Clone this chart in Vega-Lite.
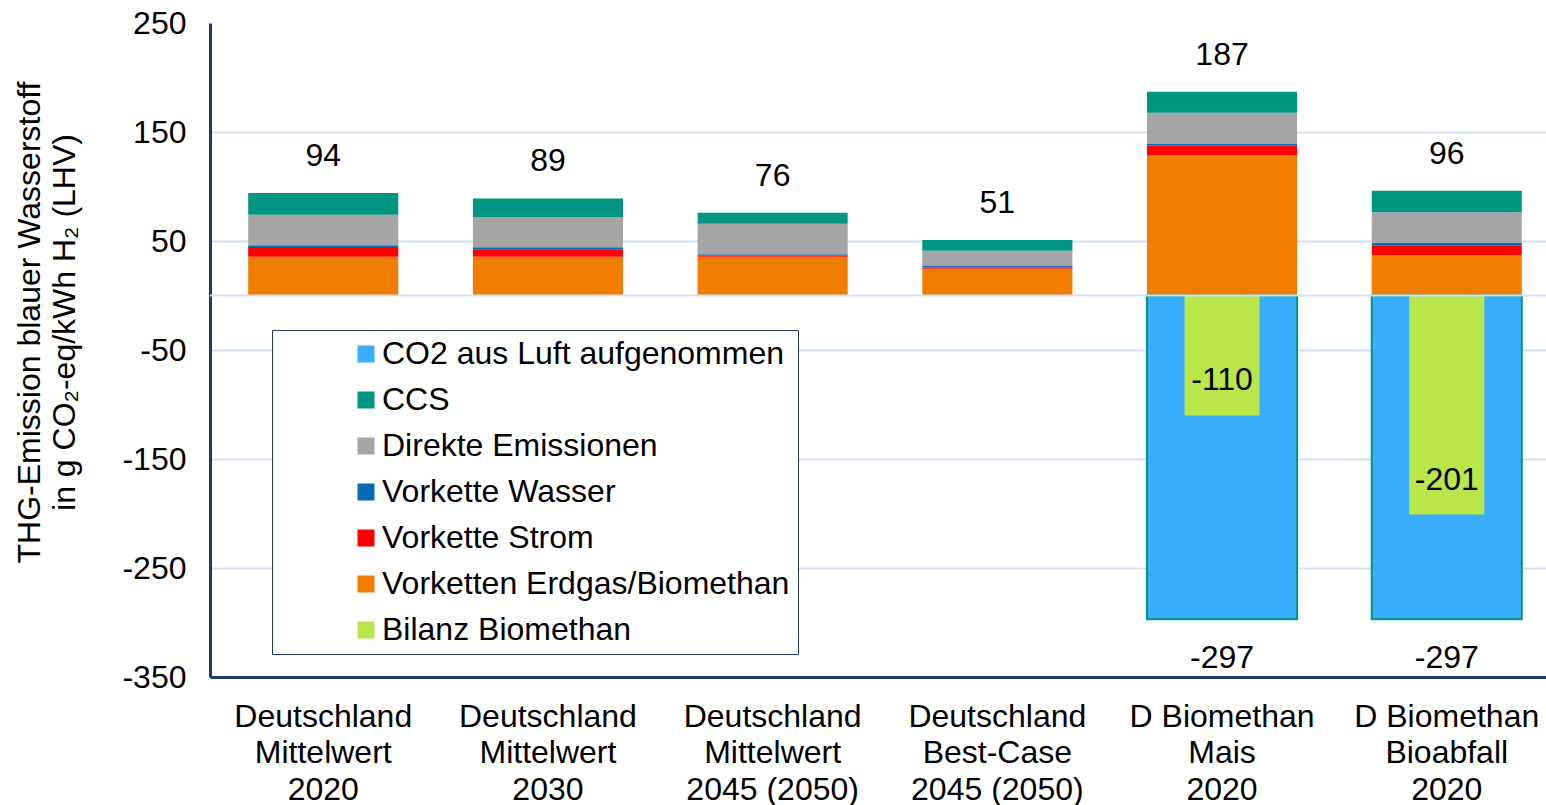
{
  "$schema": "https://vega.github.io/schema/vega-lite/v6.json",
  "width": 1350,
  "height": 654,
  "autosize": "none",
  "padding": {"left": 210, "top": 23, "right": 0, "bottom": 128},
  "background": "white",
  "config": {
    "view": {"stroke": null},
    "font": "Liberation Sans",
    "text": {"font": "Liberation Sans"}
  },
  "datasets": {
    "ranks": [
      {"component": "CO2 aus Luft aufgenommen", "rank": 0},
      {"component": "Vorketten Erdgas/Biomethan", "rank": 1},
      {"component": "Vorkette Strom", "rank": 2},
      {"component": "Vorkette Wasser", "rank": 3},
      {"component": "Direkte Emissionen", "rank": 4},
      {"component": "CCS", "rank": 5}
    ],
    "bars": [
      {"cat": "Deutschland|Mittelwert|2020", "component": "Vorketten Erdgas/Biomethan", "value": 35.5},
      {"cat": "Deutschland|Mittelwert|2020", "component": "Vorkette Strom", "value": 9},
      {"cat": "Deutschland|Mittelwert|2020", "component": "Vorkette Wasser", "value": 1.5},
      {"cat": "Deutschland|Mittelwert|2020", "component": "Direkte Emissionen", "value": 28},
      {"cat": "Deutschland|Mittelwert|2020", "component": "CCS", "value": 20},
      {"cat": "Deutschland|Mittelwert|2030", "component": "Vorketten Erdgas/Biomethan", "value": 35.5},
      {"cat": "Deutschland|Mittelwert|2030", "component": "Vorkette Strom", "value": 7},
      {"cat": "Deutschland|Mittelwert|2030", "component": "Vorkette Wasser", "value": 1.7},
      {"cat": "Deutschland|Mittelwert|2030", "component": "Direkte Emissionen", "value": 27.5},
      {"cat": "Deutschland|Mittelwert|2030", "component": "CCS", "value": 17.3},
      {"cat": "Deutschland|Mittelwert|2045 (2050)", "component": "Vorketten Erdgas/Biomethan", "value": 35.5},
      {"cat": "Deutschland|Mittelwert|2045 (2050)", "component": "Vorkette Strom", "value": 1.2},
      {"cat": "Deutschland|Mittelwert|2045 (2050)", "component": "Vorkette Wasser", "value": 1.2},
      {"cat": "Deutschland|Mittelwert|2045 (2050)", "component": "Direkte Emissionen", "value": 28},
      {"cat": "Deutschland|Mittelwert|2045 (2050)", "component": "CCS", "value": 10.1},
      {"cat": "Deutschland|Best-Case|2045 (2050)", "component": "Vorketten Erdgas/Biomethan", "value": 24.5},
      {"cat": "Deutschland|Best-Case|2045 (2050)", "component": "Vorkette Strom", "value": 1.3},
      {"cat": "Deutschland|Best-Case|2045 (2050)", "component": "Vorkette Wasser", "value": 1.2},
      {"cat": "Deutschland|Best-Case|2045 (2050)", "component": "Direkte Emissionen", "value": 14},
      {"cat": "Deutschland|Best-Case|2045 (2050)", "component": "CCS", "value": 10},
      {"cat": "D Biomethan|Mais|2020", "component": "Vorketten Erdgas/Biomethan", "value": 128.5},
      {"cat": "D Biomethan|Mais|2020", "component": "Vorkette Strom", "value": 9},
      {"cat": "D Biomethan|Mais|2020", "component": "Vorkette Wasser", "value": 1.6},
      {"cat": "D Biomethan|Mais|2020", "component": "Direkte Emissionen", "value": 28.5},
      {"cat": "D Biomethan|Mais|2020", "component": "CCS", "value": 19.4},
      {"cat": "D Biomethan|Mais|2020", "component": "CO2 aus Luft aufgenommen", "value": -297},
      {"cat": "D Biomethan|Bioabfall|2020", "component": "Vorketten Erdgas/Biomethan", "value": 37},
      {"cat": "D Biomethan|Bioabfall|2020", "component": "Vorkette Strom", "value": 9.2},
      {"cat": "D Biomethan|Bioabfall|2020", "component": "Vorkette Wasser", "value": 2.2},
      {"cat": "D Biomethan|Bioabfall|2020", "component": "Direkte Emissionen", "value": 28},
      {"cat": "D Biomethan|Bioabfall|2020", "component": "CCS", "value": 19.6},
      {"cat": "D Biomethan|Bioabfall|2020", "component": "CO2 aus Luft aufgenommen", "value": -297}
    ],
    "bilanz": [
      {"cat": "D Biomethan|Mais|2020", "component": "Bilanz Biomethan", "value": -110},
      {"cat": "D Biomethan|Bioabfall|2020", "component": "Bilanz Biomethan", "value": -201}
    ],
    "totals": [
      {"cat": "Deutschland|Mittelwert|2020", "value": 94},
      {"cat": "Deutschland|Mittelwert|2030", "value": 89},
      {"cat": "Deutschland|Mittelwert|2045 (2050)", "value": 76},
      {"cat": "Deutschland|Best-Case|2045 (2050)", "value": 51},
      {"cat": "D Biomethan|Mais|2020", "value": 187},
      {"cat": "D Biomethan|Bioabfall|2020", "value": 96}
    ],
    "co2": [
      {"cat": "D Biomethan|Mais|2020", "value": -297},
      {"cat": "D Biomethan|Bioabfall|2020", "value": -297}
    ]
  },
  "encoding": {
    "y": {
      "field": "value",
      "type": "quantitative",
      "scale": {"domain": [-350, 250], "nice": false, "zero": false},
      "axis": {
        "title": ["THG-Emission blauer Wasserstoff", "in g CO₂-eq/kWh H₂ (LHV)"],
        "titleFont": "Liberation Sans",
        "titleFontSize": 32,
        "titleFontWeight": "normal",
        "titleColor": "black",
        "titleLineHeight": 35,
        "titleAngle": 270,
        "titleBaseline": "top",
        "titleAlign": "center",
        "titleX": -196,
        "titleY": 299,
        "values": [-350, -250, -150, -50, 50, 150, 250],
        "labelExpr": "toString(datum.value)",
        "labelFont": "Liberation Sans",
        "labelFontSize": 32,
        "labelColor": "black",
        "labelPadding": 24,
        "ticks": false,
        "domainColor": "#1F3864",
        "domainWidth": 3,
        "grid": true,
        "gridColor": "#D3DFF3",
        "gridWidth": 2,
        "gridOpacity": {"condition": {"test": "datum.value == 250 || datum.value == -350", "value": 0}, "value": 1}
      }
    }
  },
  "layer": [
    {
      "data": {"name": "bars"},
      "transform": [
        {"lookup": "component", "from": {"data": {"name": "ranks"}, "key": "component", "fields": ["rank"]}}
      ],
      "mark": {"type": "bar", "stroke": "#009683"},
      "encoding": {
        "x": {
          "field": "cat",
          "type": "nominal",
          "scale": {
            "domain": ["Deutschland|Mittelwert|2020", "Deutschland|Mittelwert|2030", "Deutschland|Mittelwert|2045 (2050)", "Deutschland|Best-Case|2045 (2050)", "D Biomethan|Mais|2020", "D Biomethan|Bioabfall|2020"],
            "paddingInner": 0.332,
            "paddingOuter": 0.17
          },
          "axis": {
            "title": null,
            "labelExpr": "split(datum.label, '|')",
            "labelAngle": 0,
            "labelFont": "Liberation Sans",
            "labelFontSize": 32,
            "labelColor": "black",
            "labelLineHeight": 36.5,
            "labelBaseline": "top",
            "labelPadding": 24,
            "labelLimit": 400,
            "ticks": false,
            "domainColor": "#1F3864",
            "domainWidth": 3
          }
        },
        "order": {"field": "rank", "type": "quantitative"},
        "color": {
          "field": "component",
          "type": "nominal",
          "scale": {
            "domain": ["CO2 aus Luft aufgenommen", "CCS", "Direkte Emissionen", "Vorkette Wasser", "Vorkette Strom", "Vorketten Erdgas/Biomethan", "Bilanz Biomethan"],
            "range": ["#3BADFF", "#009682", "#A5A5A5", "#0B6AB6", "#FF0000", "#F07D00", "#B9E64A"]
          },
          "legend": {
            "title": null,
            "orient": "none",
            "legendX": 62,
            "legendY": 307,
            "padding": 8,
            "symbolOffset": 70,
            "symbolType": "square",
            "symbolSize": 289,
            "symbolStrokeWidth": 0,
            "labelFont": "Liberation Sans",
            "labelFontSize": 32,
            "labelColor": "black",
            "labelOffset": 0,
            "labelLimit": 800,
            "rowPadding": 14,
            "fillColor": "white",
            "strokeColor": "#1F3864",
            "encode": {
              "symbols": {
                "strokeWidth": {"signal": "datum.index === 0 ? 2 : 0"}
              }
            }
          }
        },
        "strokeWidth": {"condition": {"test": "datum.component === 'CO2 aus Luft aufgenommen'", "value": 2}, "value": 0}
      }
    },
    {
      "data": {"name": "bilanz"},
      "mark": {"type": "bar", "width": {"band": 0.5}},
      "encoding": {
        "x": {"field": "cat", "type": "nominal"},
        "color": {"field": "component", "type": "nominal"}
      }
    },
    {
      "data": {"values": [{"value": 0}]},
      "mark": {"type": "rule", "color": "#D3DFF3", "strokeWidth": 2},
      "encoding": {}
    },
    {
      "data": {"name": "totals"},
      "mark": {"type": "text", "fontSize": 32, "dy": -37, "color": "black", "font": "Liberation Sans"},
      "encoding": {
        "x": {"field": "cat", "type": "nominal"},
        "text": {"field": "value", "type": "nominal"}
      }
    },
    {
      "data": {"name": "co2"},
      "mark": {"type": "text", "fontSize": 32, "dy": 39, "color": "black", "font": "Liberation Sans"},
      "encoding": {
        "x": {"field": "cat", "type": "nominal"},
        "text": {"field": "value", "type": "nominal"}
      }
    },
    {
      "data": {"name": "bilanz"},
      "mark": {"type": "text", "fontSize": 32, "dy": -35, "color": "black", "font": "Liberation Sans"},
      "encoding": {
        "x": {"field": "cat", "type": "nominal"},
        "text": {"field": "value", "type": "nominal"}
      }
    }
  ]
}
